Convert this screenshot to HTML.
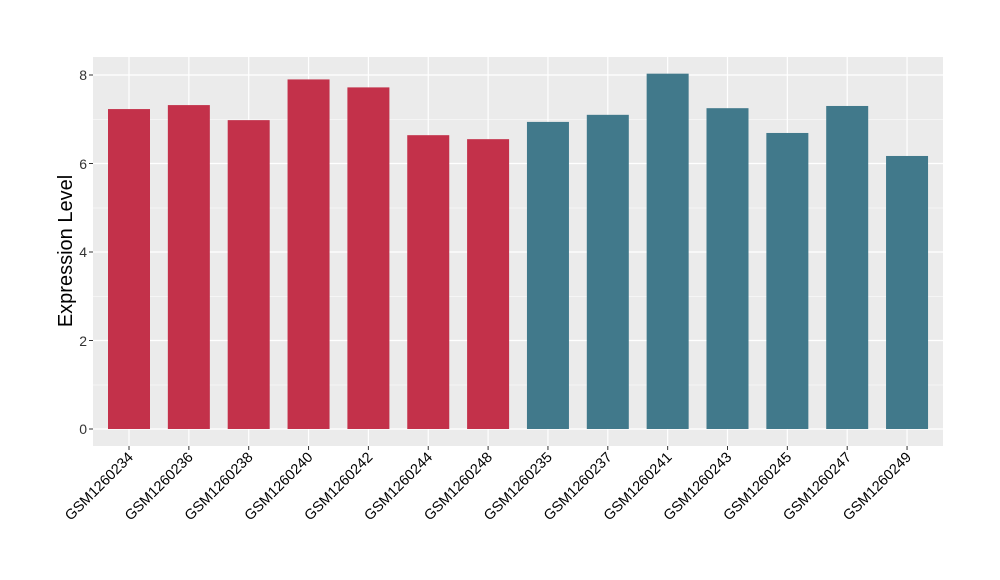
<!DOCTYPE html><html><head><style>body{margin:0;background:#fff}svg{display:block}text{font-family:"Liberation Sans",Arial,sans-serif}</style></head><body>
<svg width="1000" height="580" xmlns="http://www.w3.org/2000/svg">
<rect x="93" y="57" width="850" height="389" fill="#EBEBEB"/>
<g stroke="#fff" stroke-width="0.6">
<line x1="93" x2="943" y1="385" y2="385"/><line x1="93" x2="943" y1="296.5" y2="296.5"/><line x1="93" x2="943" y1="208" y2="208"/><line x1="93" x2="943" y1="119.5" y2="119.5"/>
</g>
<g stroke="#fff" stroke-width="1.2" id="g"></g>
<g id="b"></g>
<g id="t" font-size="14.5" fill="#000"></g>
<g font-size="14" fill="#333" text-anchor="end">
<text x="87" y="434">0</text><text x="87" y="346">2</text><text x="87" y="257">4</text><text x="87" y="169">6</text><text x="87" y="80">8</text>
</g>
<g stroke="#333" stroke-width="1">
<line x1="89" x2="93" y1="429" y2="429"/><line x1="89" x2="93" y1="340.5" y2="340.5"/><line x1="89" x2="93" y1="252" y2="252"/><line x1="89" x2="93" y1="163.5" y2="163.5"/><line x1="89" x2="93" y1="75" y2="75"/>
</g>
<text transform="translate(72,251) rotate(-90)" font-size="20" text-anchor="middle" fill="#000">Expression Level</text>
<script>
var v=[7.23,7.32,6.98,7.9,7.72,6.64,6.55,6.94,7.1,8.03,7.25,6.69,7.3,6.17];
var n=["GSM1260234","GSM1260236","GSM1260238","GSM1260240","GSM1260242","GSM1260244","GSM1260248","GSM1260235","GSM1260237","GSM1260241","GSM1260243","GSM1260245","GSM1260247","GSM1260249"];
var g=document.getElementById('g'),b=document.getElementById('b'),t=document.getElementById('t'),ns="http://www.w3.org/2000/svg";
[0,2,4,6,8].forEach(function(k){var l=document.createElementNS(ns,'line');var y=429-k*44.25;l.setAttribute('x1',93);l.setAttribute('x2',943);l.setAttribute('y1',y);l.setAttribute('y2',y);g.appendChild(l);});
v.forEach(function(val,i){var cx=129+i*59.85;
var l=document.createElementNS(ns,'line');l.setAttribute('x1',cx);l.setAttribute('x2',cx);l.setAttribute('y1',57);l.setAttribute('y2',446);g.appendChild(l);
var r=document.createElementNS(ns,'rect');var h=val*44.25;r.setAttribute('x',cx-21);r.setAttribute('width',42);r.setAttribute('y',429-h);r.setAttribute('height',h);r.setAttribute('fill',i<7?'#C3314A':'#41798B');b.appendChild(r);
var tk=document.createElementNS(ns,'line');tk.setAttribute('x1',cx);tk.setAttribute('x2',cx);tk.setAttribute('y1',446);tk.setAttribute('y2',450);tk.setAttribute('stroke','#333');b.appendChild(tk);
var tx=document.createElementNS(ns,'text');tx.setAttribute('transform','translate('+(cx+5)+',458) rotate(-45)');tx.setAttribute('text-anchor','end');tx.textContent=n[i];t.appendChild(tx);});
</script>
</svg></body></html>
